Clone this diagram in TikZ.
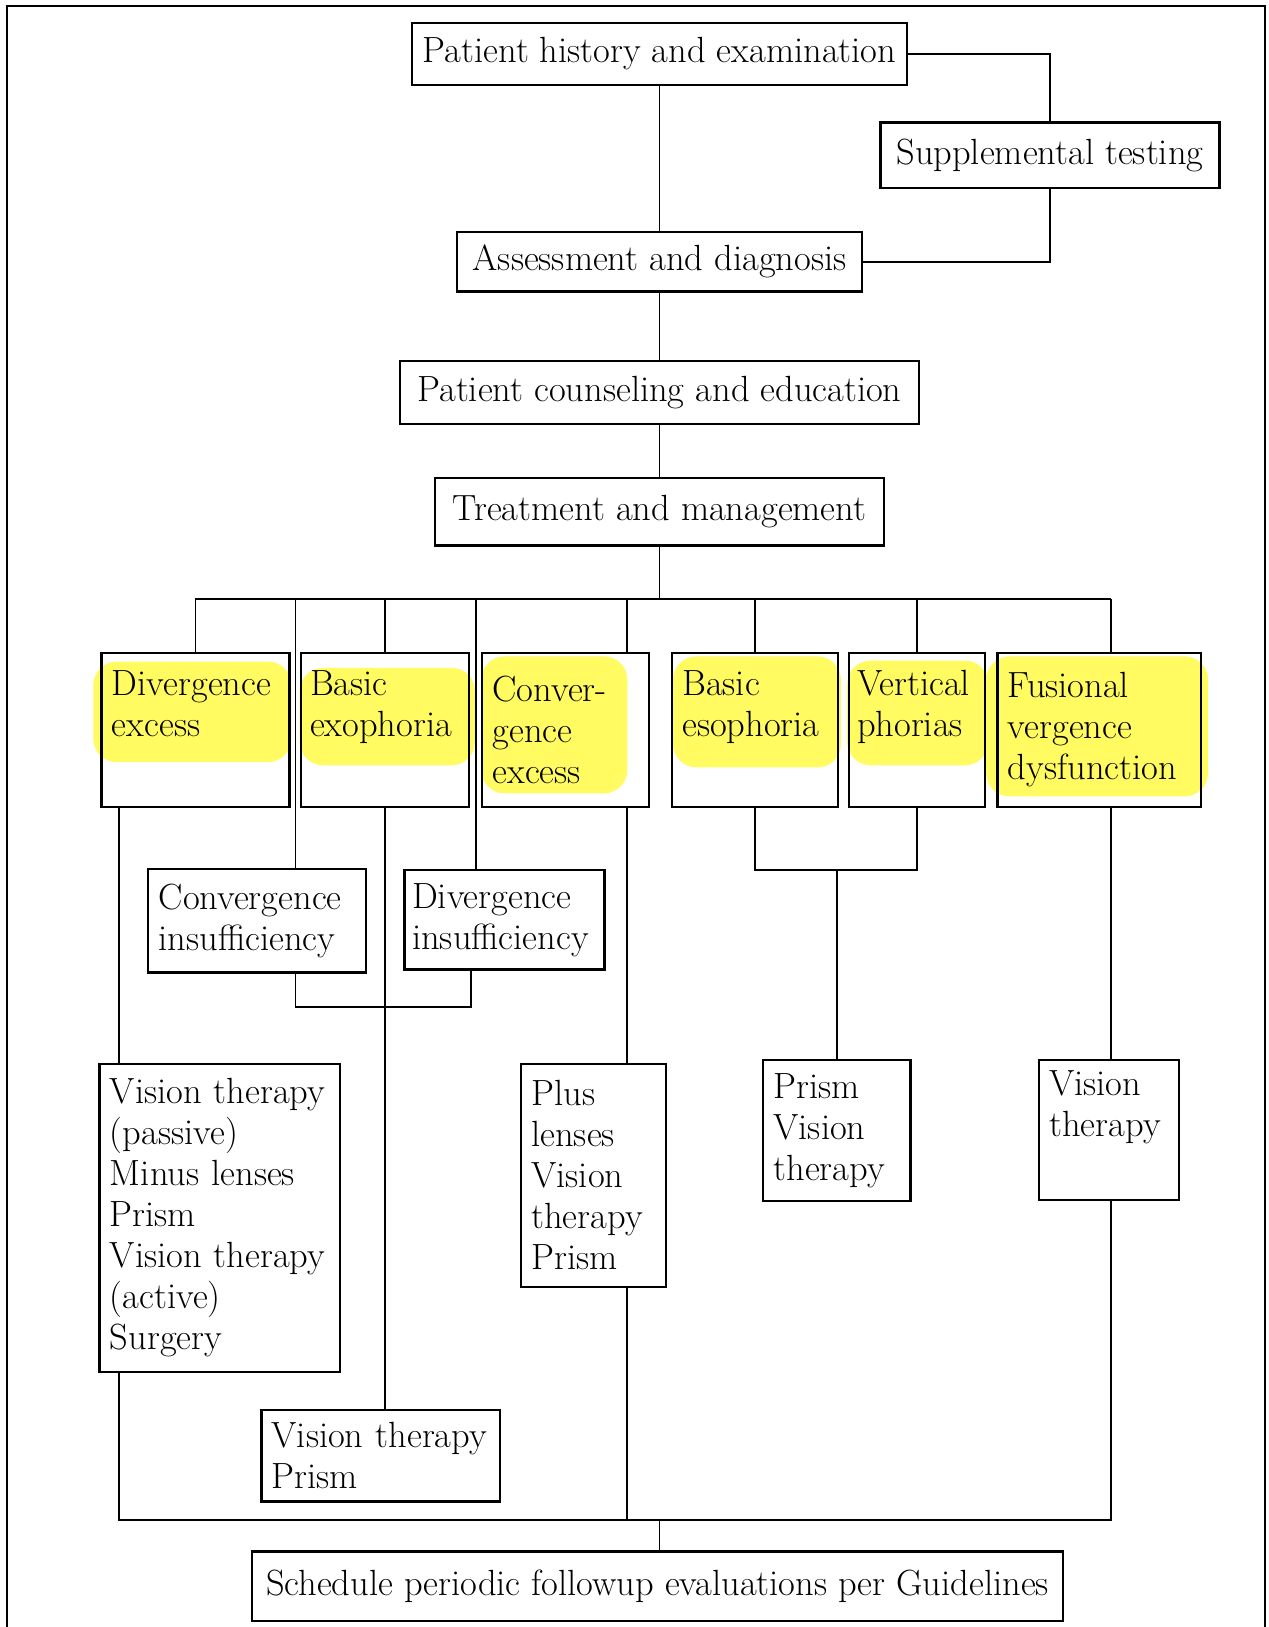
\documentclass[tikz,border=0pt]{standalone}
\usepackage{tikz}
\usetikzlibrary{calc}
\definecolor{marker}{RGB}{255,251,96}
\hyphenpenalty=10000
\exhyphenpenalty=10000
\tikzset{%
  % Specifications for style of nodes:
     base/.style = {rectangle, draw=black, line width=1.3pt,
                    inner xsep=0.2cm, inner ysep=0pt,
                    font=\fontsize{20}{22.5}\selectfont},
    stageBox/.style = {base, align=center},
    conditionBox/.style = {base, align=left, text width=#1, minimum height=2.96cm},
    therapyBox/.style = {base, align=left, text width=#1},
    highlight/.style = {fill=marker, rounded corners=0.45cm},
    link/.style = {line width=1pt},
}

\begin{document}
\begin{tikzpicture}[node distance=1.5cm]
  \useasboundingbox (0,0) rectangle (24.46,-31.38);
  \draw[line width=1.2pt] (0.135,-31.38) |- (24.40,-0.116) -- (24.40,-31.38);

  % marker strokes over the condition names
  \fill[highlight] (1.80,-12.76) rectangle (5.62,-14.70);
  \fill[highlight] (5.78,-12.88) rectangle (9.16,-14.76);
  \fill[highlight] (9.28,-12.66) rectangle (12.10,-15.30);
  \fill[highlight] (12.98,-12.66) rectangle (16.22,-14.80);
  \fill[highlight] (16.34,-12.74) rectangle (19.06,-14.76);
  \fill[highlight] (19.02,-12.66) rectangle (23.30,-15.36);

  % Specification of nodes (position, etc.)
  \node (history)     [stageBox, minimum width=9.54cm, minimum height=1.2cm] at (12.72,-1.04)
                      {Patient history and examination};
  \node (suppTesting) [stageBox, minimum width=6.54cm, minimum height=1.26cm] at (20.25,-2.99)
                      {Supplemental testing};
  \node (assessment)  [stageBox, minimum width=7.8cm, minimum height=1.14cm, below of=history, yshift=-2.51cm]
                      {Assessment and diagnosis};
  \node (counseling)  [stageBox, minimum width=10cm, minimum height=1.22cm, below of=assessment, yshift=-1.02cm]
                      {Patient counseling and education};
  \node (treatment)   [stageBox, minimum width=8.66cm, minimum height=1.3cm, below of=counseling, yshift=-0.8cm]
                      {Treatment and management};

  \node (divExcess)   [conditionBox=3.22cm] at (3.77,-14.08)  {Divergence\\excess\\\strut};
  \node (basicExo)    [conditionBox=2.88cm, inner xsep=0.18cm] at (7.42,-14.08)  {Basic\\exophoria\\\strut};
  \node (convExcess)  [conditionBox=2.82cm] at (10.91,-14.08) {Conver-\\gence\\excess};
  \node (basicEso)    [conditionBox=2.8cm]  at (14.56,-14.08) {Basic\\esophoria\\\strut};
  \node (vertPhorias) [conditionBox=2.32cm, inner xsep=0.15cm] at (17.69,-14.08) {Vertical\\phorias\\\strut};
  \node (fusionalDys) [conditionBox=3.52cm] at (21.2,-14.08)  {Fusional\\vergence\\dysfunction};

  \node (convInsuff)  [therapyBox=3.8cm, minimum height=2cm]     at (4.96,-17.76) {Convergence\\insufficiency};
  \node (divInsuff)   [therapyBox=3.56cm, inner xsep=0.15cm, minimum height=1.92cm] at (9.73,-17.74) {Divergence\\insufficiency};

  \node (treatDivExcess)  [therapyBox=4.24cm, minimum height=5.94cm] at (4.24,-23.49)
                          {Vision~therapy\\(passive)\\Minus~lenses\\Prism\\Vision~therapy\\(active)\\Surgery};
  \node (treatConvExcess) [therapyBox=2.39cm, minimum height=4.3cm]  at (11.445,-22.67)
                          {Plus\\lenses\\Vision\\therapy\\Prism};
  \node (treatEsoVert)    [therapyBox=2.44cm, minimum height=2.72cm] at (16.14,-21.8)
                          {Prism\\Vision\\therapy};
  \node (treatFusional)   [therapyBox=2.3cm, minimum height=2.7cm]   at (21.39,-21.79)
                          {Vision\\therapy\\\strut};
  \node (treatBasicExo)   [therapyBox=4.2cm, minimum height=1.76cm]  at (7.34,-28.08)
                          {Vision~therapy\\Prism};

  \node (followup)    [stageBox, minimum width=15.64cm, minimum height=1.34cm] at (12.68,-30.59)
                      {Schedule periodic followup evaluations per Guidelines};

  % bus levels and lanes for the lines
  \coordinate (busTop) at (0,-11.56);
  \coordinate (busBottom) at (0,-29.32);
  \coordinate (joinEso) at (0,-16.78);
  \coordinate (joinInsuff) at (0,-19.42);
  \coordinate (laneDE) at (2.30,0);
  \coordinate (laneCI) at (5.70,0);
  \coordinate (laneDI) at (9.18,0);
  \coordinate (laneDIb) at (9.08,0);
  \coordinate (laneCE) at (12.10,0);
  \coordinate (laneFV) at (21.42,0);

  % Specification of lines between nodes specified above
  \draw[link] (history) -- (assessment);
  \draw[link] (assessment) -- (counseling);
  \draw[link] (counseling) -- (treatment);
  \draw[link] (history.east) -| (suppTesting.north);
  \draw[link] (suppTesting.south) |- (assessment.east);

  \draw[link] (treatment) -- (treatment |- busTop);
  \draw[link] (divExcess.north |- busTop) -- (laneFV |- busTop);
  \foreach \n in {divExcess, basicExo, basicEso, vertPhorias}
    \draw[link] (\n.north |- busTop) -- (\n.north);
  \draw[link] (laneCE |- busTop) -- (laneCE |- convExcess.north);
  \draw[link] (laneFV |- busTop) -- (laneFV |- fusionalDys.north);
  \draw[link] (laneCI |- busTop) -- (laneCI |- convInsuff.north);
  \draw[link] (laneDI |- busTop) -- (laneDI |- divInsuff.north);

  \draw[link] (laneCI |- convInsuff.south) |- (laneDIb |- joinInsuff) -- (laneDIb |- divInsuff.south);
  \draw[link] (basicEso.south) |- (vertPhorias.south |- joinEso) -- (vertPhorias.south);
  \draw[link] (treatEsoVert.north |- joinEso) -- (treatEsoVert.north);

  \draw[link] (laneDE |- divExcess.south) -- (laneDE |- treatDivExcess.north);
  \draw[link] (basicExo.south) -- (basicExo.south |- treatBasicExo.north);
  \draw[link] (laneCE |- convExcess.south) -- (laneCE |- treatConvExcess.north);
  \draw[link] (laneFV |- fusionalDys.south) -- (laneFV |- treatFusional.north);

  \draw[link] (laneDE |- treatDivExcess.south) |- (laneFV |- busBottom) -- (laneFV |- treatFusional.south);
  \draw[link] (laneCE |- treatConvExcess.south) -- (laneCE |- busBottom);
  \draw[link] (treatment |- busBottom) -- (treatment |- followup.north);
\end{tikzpicture}
\end{document}
